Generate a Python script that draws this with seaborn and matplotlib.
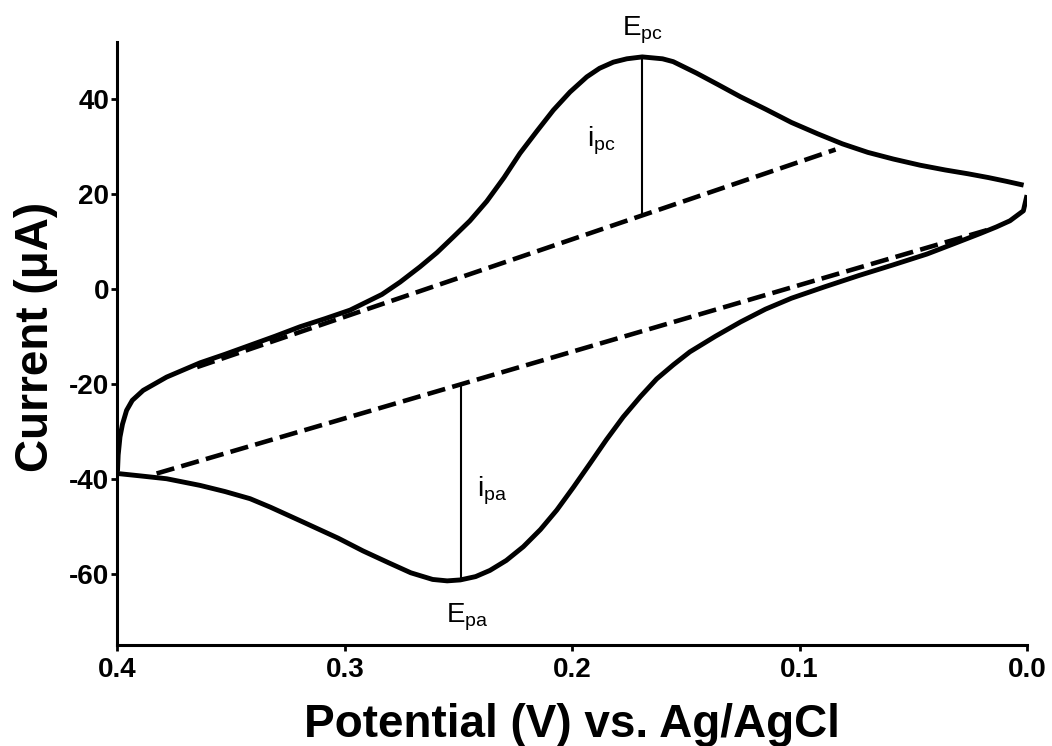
import matplotlib
matplotlib.use("Agg")
import matplotlib.pyplot as plt
from matplotlib import font_manager
import pandas as pd
import seaborn as sns

# Forward sweep (0.0 V -> 0.4 V), potential in V and current in uA
fwd_potential = [0.0015, 0.009, 0.017, 0.026, 0.036, 0.047, 0.0588, 0.07,
                 0.0812, 0.092, 0.1036, 0.115, 0.126, 0.136, 0.1454, 0.1556,
                 0.1603, 0.1692, 0.176, 0.1819, 0.188, 0.1936, 0.201, 0.2083,
                 0.2155, 0.223, 0.230, 0.2376, 0.245, 0.2523, 0.2595, 0.267,
                 0.2757, 0.2837, 0.2977, 0.3087, 0.3197, 0.3307, 0.3417, 0.3527,
                 0.3637, 0.3784, 0.3887, 0.3935, 0.396, 0.3978, 0.3989, 0.3997,
                 0.4]
fwd_current = [21.8, 22.6, 23.4, 24.2, 25.0, 26.0, 27.3, 28.7,
               30.5, 32.6, 35.0, 37.8, 40.4, 43.0, 45.4, 47.8,
               48.4, 48.8, 48.4, 47.7, 46.4, 44.6, 41.4, 37.6,
               33.2, 28.5, 23.4, 18.4, 14.3, 10.9, 7.6, 4.6,
               1.4, -1.2, -4.5, -6.3, -8.0, -10.0, -11.9, -13.8,
               -15.6, -18.6, -21.4, -23.5, -25.6, -28.5, -31.2, -35.0,
               -38.5]

# Reverse sweep (0.4 V -> 0.0 V)
rev_potential = [0.4, 0.39, 0.3784, 0.3637, 0.3527, 0.3417, 0.3327, 0.318,
                 0.303, 0.292, 0.2807, 0.271, 0.2614, 0.255, 0.2492, 0.2425,
                 0.2362, 0.229, 0.2215, 0.214, 0.2068, 0.1995, 0.1922, 0.185,
                 0.1776, 0.170, 0.1629, 0.1555, 0.1483, 0.137, 0.126, 0.115,
                 0.1036, 0.089, 0.0738, 0.059, 0.044, 0.032, 0.0207, 0.0135,
                 0.0075, 0.0016, 0.0]
rev_current = [-38.9, -39.4, -40.0, -41.4, -42.7, -44.2, -46.0, -49.2,
               -52.5, -55.2, -57.7, -59.8, -61.2, -61.5, -61.3, -60.6,
               -59.3, -57.2, -54.3, -50.7, -46.6, -41.8, -36.8, -31.8,
               -27.0, -22.7, -19.0, -16.0, -13.3, -10.0, -7.0, -4.3,
               -2.0, 0.4, 2.8, 5.0, 7.3, 9.5, 11.6, 13.0,
               14.3, 16.4, 19.7]

# Extrapolated capacitive baselines (end points)
cath_base_potential = [0.365, 0.0842]
cath_base_current = [-16.5, 29.3]
anod_base_potential = [0.3828, 0.015]
anod_base_current = [-38.9, 12.7]

# Peak markers: potential, peak current, baseline current under the peak
peak_potential = [0.1692, 0.249]
peak_current = [48.8, -61.3]
peak_base_current = [15.4, -20.3]

x_ticks = [0.4, 0.3, 0.2, 0.1, 0.0]
x_tick_labels = ["0.4", "0.3", "0.2", "0.1", "0.0"]
y_ticks = [-60, -40, -20, 0, 20, 40]
y_tick_labels = ["-60", "-40", "-20", "0", "20", "40"]

sns.set_style("ticks")
plt.rcParams["font.family"] = ["Liberation Sans", "DejaVu Sans"]
plt.rcParams["mathtext.fontset"] = "custom"
plt.rcParams["mathtext.rm"] = "Liberation Sans"
plt.rcParams["axes.unicode_minus"] = False
plt.rcParams["text.color"] = "black"
plt.rcParams["axes.labelcolor"] = "black"
plt.rcParams["xtick.color"] = "black"
plt.rcParams["ytick.color"] = "black"
plt.rcParams["xtick.labelcolor"] = "black"
plt.rcParams["ytick.labelcolor"] = "black"

installed = {f.name for f in font_manager.fontManager.ttflist}
has_narrow = "Liberation Sans Narrow" in installed

fig = plt.figure(figsize=(10.52, 7.46), dpi=100)
ax = fig.add_axes([0.11169, 0.13539, 0.86455, 0.80871])

curve_lw = 3.5
fwd = pd.DataFrame({"E": fwd_potential, "I": fwd_current})
rev = pd.DataFrame({"E": rev_potential, "I": rev_current})
for branch in (fwd, rev):
    sns.lineplot(data=branch, x="E", y="I", sort=False, estimator=None,
                 color="black", lw=curve_lw, ax=ax,
                 solid_joinstyle="round", solid_capstyle="butt")

for bx, by in [(cath_base_potential, cath_base_current),
               (anod_base_potential, anod_base_current)]:
    base = pd.DataFrame({"E": bx, "I": by})
    sns.lineplot(data=base, x="E", y="I", sort=False, estimator=None,
                 color="black", lw=3.3, ax=ax, dashes=False,
                 linestyle=(0, (4, 1.6)), dash_capstyle="butt")

for px, pk, pb in zip(peak_potential, peak_current, peak_base_current):
    ax.vlines(px, pb, pk, color="black", lw=1.5)

ann_size = 20
ax.text(0.169, 53.4, r"$\mathregular{E_{pc}}$", ha="center", va="baseline",
        fontsize=ann_size)
ax.text(0.1936, 29.85, r"$\mathregular{i_{pc}}$", ha="left", va="baseline",
        fontsize=ann_size)
ax.text(0.242, -43.8, r"$\mathregular{i_{pa}}$", ha="left", va="baseline",
        fontsize=ann_size)
ax.text(0.2557, -70.2, r"$\mathregular{E_{pa}}$", ha="left", va="baseline",
        fontsize=ann_size)

ax.set_xlim(0.4, 0.0)
ax.set_ylim(-75, 52)
ax.set_xticks(x_ticks)
ax.set_xticklabels(x_tick_labels)
ax.set_yticks(y_ticks)
ax.set_yticklabels(y_tick_labels)
ax.tick_params(axis="both", direction="out", length=4, width=2,
               labelsize=20, color="black", labelcolor="black")
ax.tick_params(axis="x", pad=5)
ax.tick_params(axis="y", pad=2)
for lab in ax.get_xticklabels() + ax.get_yticklabels():
    lab.set_fontweight("bold")

sns.despine(ax=ax)
for side in ["left", "bottom"]:
    ax.spines[side].set_linewidth(2.2)
    ax.spines[side].set_color("black")

ax.set_xlabel("Potential (V) vs. Ag/AgCl", fontsize=33, fontweight="bold",
              va="baseline", color="black")
ax.xaxis.set_label_coords(0.5, -0.1525)

if has_narrow:
    ax.set_ylabel("Current (\u03bcA)", fontsize=40, fontweight="bold",
                  family=["Liberation Sans Narrow", "DejaVu Sans"],
                  va="baseline", rotation=90, rotation_mode="anchor",
                  color="black")
else:
    ax.set_ylabel("Current (\u03bcA)", fontsize=33, fontweight="bold",
                  va="baseline", rotation=90, rotation_mode="anchor",
                  color="black")
ax.yaxis.set_label_coords(-0.0759, 0.511)

fig.savefig("out.png", dpi=100)
